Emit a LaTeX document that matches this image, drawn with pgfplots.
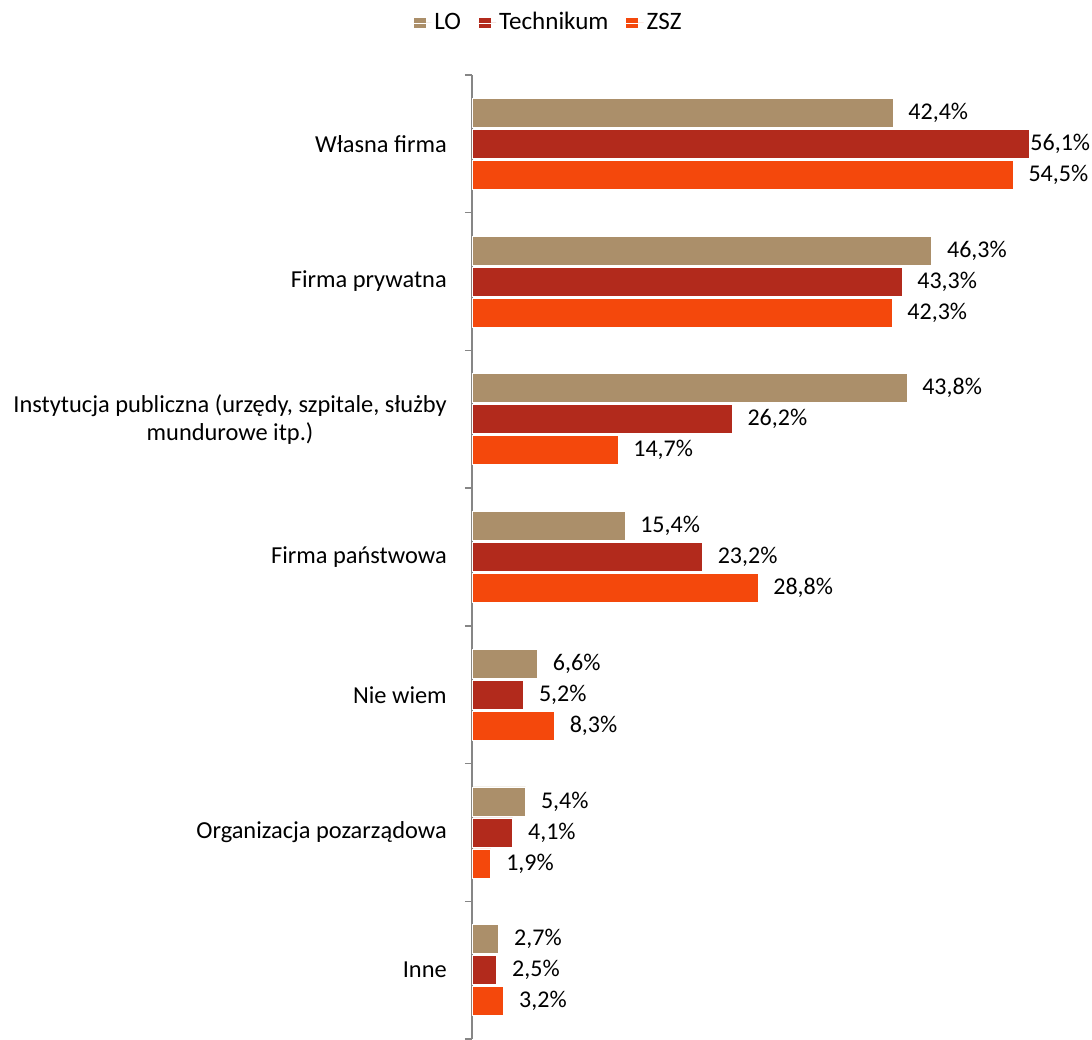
\documentclass[border=0pt]{standalone}
\usepackage{fontspec}
\setmainfont{Carlito}
\usepackage{pgfplots}
\usepackage{pgfplotstable}
\pgfplotsset{compat=1.18}
\definecolor{cLO}{RGB}{171,143,106}
\definecolor{cTE}{RGB}{178,42,28}
\definecolor{cZS}{RGB}{244,72,12}
\definecolor{axgray}{RGB}{134,134,134}
\pgfplotstableread{
y x off
6 42.4 11.25
5 46.3 11.25
4 43.8 11.25
3 15.4 11.25
2 6.6 11.25
1 5.4 11.25
0 2.7 11.25
}\LO
\pgfplotstableread{
y x off
6 56.1 0.75
5 43.3 11.25
4 26.2 11.25
3 23.2 11.25
2 5.2 11.25
1 4.1 11.25
0 2.5 11.25
}\TE
\pgfplotstableread{
y x off
6 54.5 11.25
5 42.3 11.25
4 14.7 11.25
3 28.8 11.25
2 8.3 11.25
1 1.9 11.25
0 3.2 11.25
}\ZS
\begin{document}
\fontsize{18pt}{21pt}\selectfont
\begin{tikzpicture}
\begin{axis}[
  scale only axis,
  width=465pt, height=723pt,
  xmin=0, xmax=62.44,
  ymin=-0.5, ymax=6.5,
  xbar, bar width=21.75pt,
  axis x line=none,
  axis y line*=left,
  y axis line style={axgray, line width=1.1pt, -},
  ytick={0,...,6},
  yticklabels={Inne, Organizacja pozarządowa, Nie wiem, Firma państwowa,
    {Instytucja publiczna (urzędy, szpitale, służby\\mundurowe itp.)},
    Firma prywatna, Własna firma},
  major tick length=0pt,
  minor ytick={-0.5,0.5,...,6.5},
  minor tick length=5.25pt,
  tick align=outside,
  minor tick style={axgray, line width=1.1pt},
  yticklabel style={anchor=east, inner sep=0pt, xshift=-18.75pt, align=center, font=\fontsize{18.3pt}{21pt}\selectfont},
  /pgf/number format/assume math mode=true,
  point meta=x,
  visualization depends on={\thisrow{off}\as\off},
  nodes near coords={\pgfmathprintnumber[fixed, precision=1, fixed zerofill, use comma]{\pgfplotspointmeta}\%},
  nodes near coords style={anchor=west, inner sep=0pt, xshift=\off pt, font=\fontsize{18pt}{21pt}\selectfont, text=black},
  legend columns=-1,
  legend style={draw=none, at={(axis cs:7.75,6.5)}, anchor=center, yshift=39pt,
    font=\fontsize{18.8pt}{22pt}\selectfont,
    /tikz/every even column/.append style={column sep=11pt}},
  legend image code/.code={\fill[#1, draw=none] (0pt,-4pt) rectangle (9pt,4pt); \path (0pt,0pt) -- (13pt,0pt);},
  clip=false,
]
\coordinate (sw) at (rel axis cs:0,0);
\coordinate (ne) at (rel axis cs:1,1);
\addplot[fill=cLO, draw=white, line width=0.6pt, bar shift=23.25pt] table[x=x,y=y] {\LO};
\addplot[fill=cTE, draw=white, line width=0.6pt, bar shift=0pt] table[x=x,y=y] {\TE};
\addplot[fill=cZS, draw=white, line width=0.6pt, bar shift=-23.25pt] table[x=x,y=y] {\ZS};
\legend{LO, Technikum, ZSZ}
\end{axis}
\pgfresetboundingbox
\path ([xshift=-354pt]sw) rectangle ([yshift=56.25pt]ne);
\end{tikzpicture}
\end{document}
